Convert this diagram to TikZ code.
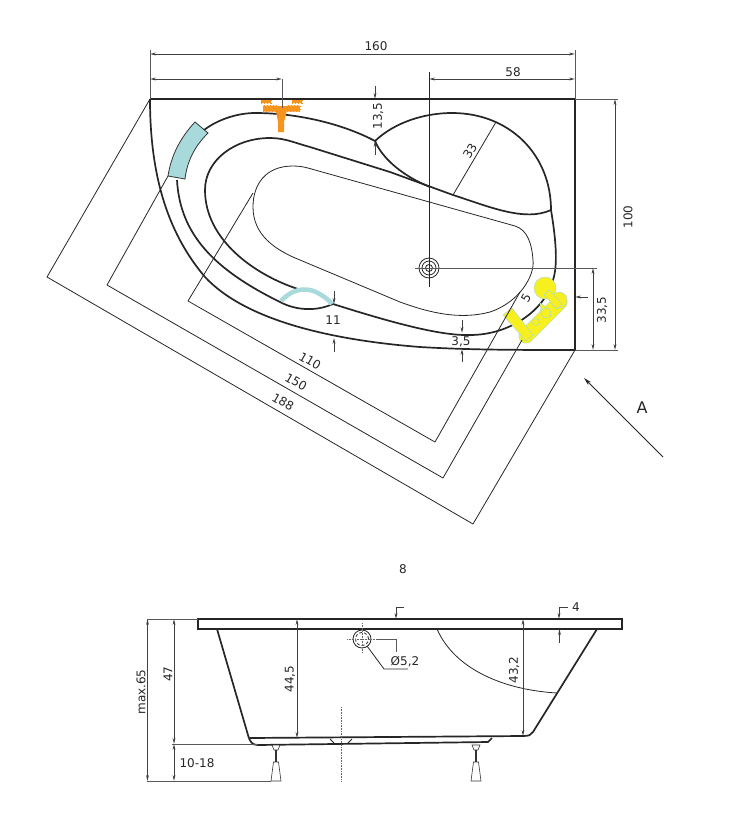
\documentclass[tikz,border=0pt]{standalone}
\usepackage{fontspec}
\setmainfont{DejaVu Sans}
\usetikzlibrary{arrows.meta}
\definecolor{seatteal}{RGB}{168,218,220}
\definecolor{jetyellow}{RGB}{247,240,30}
\definecolor{tapgold}{RGB}{247,148,29}
\tikzset{
	tub/.style={line width=1.7pt,black!85},
	thinline/.style={line width=.8pt,black!85},
	dimline/.style={line width=.9pt,black!75,<->,>={Stealth[length=6pt,width=2.8pt]}},
	tipline/.style={line width=.9pt,black!75,->,>={Stealth[length=6pt,width=2.8pt]}},
	extline/.style={line width=.9pt,black!65},
	lbl/.style={font=\fontsize{12}{14}\selectfont,text=black!85,inner sep=0pt},
	legpart/.style={line width=.6pt,black!80,fill=white},
	jet/.style={fill=jetyellow,draw=seatteal,line width=.45pt}
}
\begin{document}
\begin{tikzpicture}[x=1pt,y=-1pt]
		\useasboundingbox (0,0) rectangle (745,819);
		% top view, tub outline
		\draw[tub] (150,99) -- (575,99) -- (575,350);
		\draw[tub] (150,99) .. controls (150,170) and (165,230) .. (205,277) .. controls (245,320) and (330,340) .. (420,347) .. controls (470,350) and (520,350) .. (575,350);
		% rim
		\draw[tub] (204,130) .. controls (220,118) and (240,113) .. (255,113) .. controls (300,113) and (345,125) .. (375,141);
		\draw[tub] (375,141) .. controls (395,122) and (425,113) .. (452,113) .. controls (510,113) and (551,155) .. (551,210);
		\draw[tub] (375,141) .. controls (383,160) and (405,177) .. (430,187);
		\draw[tub] (298,289) .. controls (255,275) and (205,240) .. (205,190) .. controls (205,160) and (235,138) .. (270,138) .. controls (285,138) and (295,143) .. (310,147) -- (390,172) -- (453,195) .. controls (490,207) and (525,222) .. (551,210);
		\draw[tub] (551,210) .. controls (556,240) and (558,265) .. (553,280) .. controls (545,310) and (510,335) .. (470,335) .. controls (440,336) and (390,322) .. (333,304);
		\draw[tub] (177,180) .. controls (180,235) and (215,270) .. (280,302) .. controls (295,310) and (315,312) .. (333,304);
		% basin
		\draw[thinline] (315,170) .. controls (305,167) and (300,166) .. (293,166) .. controls (265,166) and (253,185) .. (253,207) .. controls (253,235) and (275,250) .. (300,260) -- (400,302) .. controls (430,313) and (460,320) .. (490,312) .. controls (520,302) and (535,275) .. (533,260) .. controls (532,245) and (528,230) .. (515,226) -- cycle;
		% seat and arch
		\filldraw[fill=seatteal,draw=black!80,line width=.8pt] (195,122) -- (208,133) .. controls (194,147) and (187,162) .. (185,179) -- (168,176) .. controls (171,156) and (180,138) .. (195,122) -- cycle;
		\draw[seatteal,line width=4.5pt] (281,301) .. controls (292,289) and (305,287) .. (316,292) .. controls (322,295) and (328,299) .. (332,304);
		% tap fitting
		\fill[tapgold] (275,106) -- (288,106) -- (284,122) -- (284,132) -- (278,132) -- (278,122) -- cycle;
		\filldraw[tapgold,fill=tapgold,dotted,line width=1pt] (263,105.5) rectangle (276,111.5) (287,105.5) rectangle (300,111.5) (261,100) rectangle (271,103) (292,100) rectangle (302,103);
		% jets
		\draw[seatteal,line width=15pt,line cap=round] (526,336) -- (560,302);
		\draw[jetyellow,line width=14pt,line cap=round] (526,336) -- (560,302);
		\filldraw[jet] (545,288) circle[radius=11pt];
		\filldraw[jet] (559,300) circle[radius=8pt];
		\filldraw[jet] (540,303) -- (549,309) -- (551,316) -- (544,318) -- (541,313) -- cycle;
		\filldraw[jet] (546,313) circle[radius=5pt];
		\filldraw[jet] (536,322) circle[radius=3.5pt];
		\filldraw[jet] (503,315) -- (512,308) -- (533,335) -- (526,341) -- cycle;
		\filldraw[jet] (544,295) -- (549,290) -- (562,304) -- (557,309) -- cycle;
		% drain
		\draw[thinline] (429,268) circle[radius=10pt] (429,268) circle[radius=7pt] (429,268) circle[radius=3.5pt];
		\draw[thinline] (429,72) -- (429,287);
		\draw[extline] (415,268) -- (597,268);
		% top dimensions
		\draw[extline] (150,50) -- (150,99);
		\draw[extline] (575,50) -- (575,99);
		\draw[dimline] (150,54) -- (575,54);
		\node[lbl] (w160) at (376,46) {160};
		\draw[dimline] (150,79) -- (282,79);
		\draw[extline] (282,79) -- (282,108);
		\draw[dimline] (429,79) -- (575,79);
		\node[lbl] (w58) at (513,72) {58};
		\draw[extline] (575,99) -- (618,99);
		\draw[extline] (575,350) -- (618,350);
		\draw[dimline] (615,99) -- (615,350);
		\node[lbl,rotate=90] (h100) at (628,217) {100};
		\draw[dimline] (593,268) -- (593,350);
		\node[lbl,rotate=90] (h335) at (602,310) {33,5};
		\draw[tipline] (375,86) -- (375,99);
		\draw[tipline] (375,155) -- (375,141);
		\node[lbl,rotate=90] (h135) at (378,116) {13,5};
		\draw[thinline] (453,195) -- (496,122);
		\node[lbl,rotate=60] (r33) at (470,151) {33};
		\draw[tipline] (334,291) -- (334,304);
		\draw[tipline] (334,352) -- (334,338);
		\node[lbl] (w11) at (333,320) {11};
		\draw[tipline] (462,320) -- (462,333);
		\draw[tipline] (462,362) -- (462,349);
		\node[lbl] (w35) at (461,342) {3,5};
		\draw[tipline] (588,297) -- (575,297);
		\node[lbl,rotate=60] (w5) at (526,298) {5};
		% diagonal dimensions
		\draw[thinline] (47,277) -- (150,99);
		\draw[thinline] (473,524) -- (575,350);
		\draw[thinline] (47,277) -- (473,524);
		\node[lbl,rotate=-30] (d188) at (283,402) {188};
		\draw[thinline] (107,285) -- (168,176);
		\draw[thinline] (443,478) -- (522,340);
		\draw[thinline] (107,285) -- (443,478);
		\node[lbl,rotate=-30] (d150) at (296,382) {150};
		\draw[thinline] (188,301) -- (253,193);
		\draw[thinline] (435,442) -- (520,292);
		\draw[thinline] (188,301) -- (435,442);
		\node[lbl,rotate=-30] (d110) at (310,361) {110};
		% view arrow
		\draw[thinline,->,>={Stealth[length=8pt,width=4pt]}] (663,457) -- (584,378);
		\node[lbl,font=\fontsize{16}{18}\selectfont] (viewa) at (642,408) {A};
		\node[lbl] (scale8) at (403,569) {8};
		% side view
		\draw[tub] (198,619) rectangle (622,629);
		\draw[tub] (217,629) -- (248,735) .. controls (250,742) and (252,745) .. (258,745) -- (488,742) -- (492,738);
		\draw[tub] (250,738) -- (523,736) .. controls (529,736) and (531,735) .. (533,732) -- (597,629);
		\draw[thinline] (330,739) -- (334,743) (352,739) -- (348,743);
		\draw[black!60,line width=.6pt,densely dotted] (341,707) -- (341,781);
		\draw[thinline] (437,629) .. controls (455,670) and (505,690) .. (557,693);
		% legs
		\foreach \legx in {276,476}{
			\draw[legpart] (\legx-4,745) -- (\legx+4,745) -- (\legx+2,750) -- (\legx-2,750) -- cycle;
			\draw[black!80,line width=2pt] (\legx,750) -- (\legx,762);
			\draw[legpart] (\legx-2.5,762) -- (\legx+2.5,762) -- (\legx+5,781) -- (\legx-5,781) -- cycle;
		}
		% side dimensions
		\draw[extline] (147,619) -- (198,619);
		\draw[extline] (147,781) -- (271,781);
		\draw[extline] (172,744) -- (258,744);
		\draw[dimline] (147.5,619) -- (147.5,781);
		\draw[dimline] (174,619) -- (174,744);
		\draw[dimline] (174,744) -- (174,781);
		\draw[dimline] (297,619) -- (297,738);
		\draw[dimline] (523,619) -- (523,736);
		\node[lbl,rotate=90] (hmax) at (141,692) {max.65};
		\node[lbl,rotate=90] (h47) at (168,674) {47};
		\node[lbl] (hleg) at (197,763) {10-18};
		\node[lbl,rotate=90] (h445) at (290,679) {44,5};
		\node[lbl,rotate=90] (h432) at (514,670) {43,2};
		% overflow
		\draw[thinline] (362,639) circle[radius=9pt];
		\draw[thinline,densely dashed] (362,639) circle[radius=6.5pt];
		\draw[black!60,line width=.6pt,densely dotted] (347,639) -- (377,639) (362,623) -- (362,653);
		\draw[extline] (377,639) -- (396,639) -- (396,652);
		\draw[thinline] (367,646) -- (384,669) -- (408,669);
		\node[lbl] (d52) at (405,662) {Ø5,2};
		\draw[tipline] (404,607) -- (396,607) -- (396,619);
		\draw[tipline] (568,607) -- (559,607) -- (559,619);
		\draw[tipline] (559.5,643) -- (559.5,629);
		\node[lbl] (h4) at (576,607) {4};
		
		\end{tikzpicture}
\end{document}
